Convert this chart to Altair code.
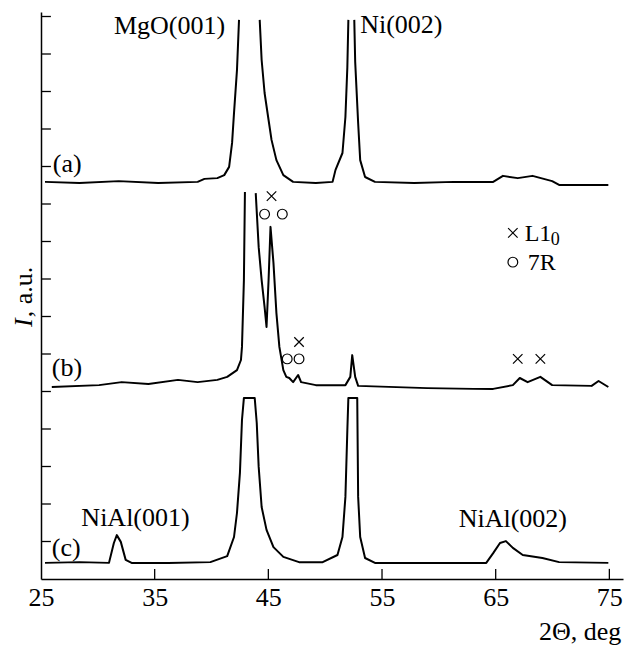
import altair as alt
import pandas as pd

FONT = "Liberation Serif"

# ---- pattern (a): 2theta (deg) and offset intensity (a.u.); None = break where peak leaves the frame
a_x = [25.35, 28.38, 31.84, 35.31, 38.78, 39.38, 40.51, 41.12, 41.55, 41.81, 41.98, 42.24, 42.42, None,
       44.24, 44.41, 44.67, 45.02, 45.28, 45.71, 46.32, 47.18, 49.18, 50.65, 50.91, 51.52, 51.78, 51.95, 52.04, None,
       52.56, 52.64, 52.90, 53.08, 53.51, 54.38, 57.84, 61.31, 64.78, 65.64, 66.94, 68.24, 69.97, 70.58, 74.91]
a_y = [10.59, 10.56, 10.61, 10.56, 10.59, 10.67, 10.69, 10.77, 10.99, 11.63, 12.43, 13.57, 14.91, None,
       14.91, 13.84, 12.96, 12.24, 11.71, 11.17, 10.77, 10.59, 10.56, 10.59, 10.91, 11.36, 12.32, 13.65, 14.91, None,
       14.91, 13.79, 12.16, 11.17, 10.72, 10.59, 10.56, 10.59, 10.59, 10.75, 10.69, 10.75, 10.61, 10.51, 10.51]

# ---- pattern (b)
b_x = [25.95, 30.11, 32.10, 34.45, 37.05, 38.78, 40.51, 41.38, 42.24, 42.59, 42.68, 42.85, 42.94, None,
       43.89, 44.15, 44.41, 44.67, 44.84, 45.02, 45.19, 45.45, 45.71, 45.97, 46.32, 46.58, 46.84, 47.18, 47.62,
       47.88, 49.18, 51.78, 52.21, 52.38, 52.64, 52.90, 58.97, 63.04, 64.78, 66.51, 67.12, 67.81, 68.93, 69.97,
       73.44, 74.05, 74.91]
b_y = [5.12, 5.17, 5.25, 5.20, 5.31, 5.25, 5.31, 5.39, 5.57, 5.84, 6.19, 7.97, 10.32, None,
       10.29, 8.85, 7.97, 7.25, 6.72, 7.97, 9.39, 8.43, 7.09, 6.19, 5.57, 5.39, 5.36, 5.25, 5.44,
       5.25, 5.17, 5.17, 5.39, 5.97, 5.39, 5.15, 5.09, 5.07, 5.07, 5.17, 5.36, 5.25, 5.39, 5.17,
       5.15, 5.28, 5.12]

# ---- pattern (c) (peaks saturated -> flat tops)
c_x = [25.35, 28.38, 30.98, 31.41, 31.67, 32.02, 32.45, 32.97, 36.18, 39.90, 41.38, 41.98, 42.24, 42.50, 42.68,
       42.85, 43.80, 43.98, 44.15, 44.41, 44.84, 45.45, 46.32, 47.70, 49.78, 51.08, 51.52, 51.78, 51.95, 52.04,
       52.82, 52.90, 53.08, 53.51, 54.38, 59.58, 64.17, 64.78, 65.38, 65.90, 66.51, 67.38, 69.11, 70.58, 74.91]
c_y = [0.43, 0.45, 0.43, 0.96, 1.17, 0.99, 0.51, 0.43, 0.43, 0.45, 0.61, 1.12, 1.76, 2.83, 4.24,
       4.83, 4.83, 4.16, 2.99, 1.92, 1.31, 0.85, 0.59, 0.45, 0.45, 0.64, 1.12, 2.19, 3.97, 4.83,
       4.83, 2.19, 1.12, 0.56, 0.43, 0.43, 0.43, 0.69, 0.96, 1.01, 0.83, 0.64, 0.56, 0.45, 0.43]

# ---- phase markers (x = L1_0, o = 7R), last entry of each is the key
cross_x = [45.28, 47.70, 66.94, 68.93, 66.51]
cross_y = [10.21, 6.32, 5.87, 5.87, 9.23]
circle_x = [44.67, 46.23, 46.66, 47.70, 66.51]
circle_y = [9.73, 9.73, 5.87, 5.87, 8.45]

# ---- axis ticks
x_ticks = [25, 35, 45, 55, 65, 75]
x_inner_ticks = [35, 45, 55, 65, 75]
y_ticks = list(range(1, 16))

# ---- text annotations
left_text = ["Ni(002)", "(a)", "(b)", "(c)", "NiAl(001)", "NiAl(002)", "L1", "7R"]
left_tx = [53.08, 26.04, 25.95, 25.95, 28.55, 61.74, 67.55, 67.81]
left_ty = [14.56, 10.85, 5.41, 0.61, 1.41, 1.39, 9.01, 8.24]
left_fs = [26, 26, 26, 26, 26, 26, 24, 24]
right_text = ["MgO(001)", "2Θ, deg"]
right_tx = [41.20, 76.05]
right_ty = [14.53, -1.63]

X_DOMAIN = [25, 76.2]
Y_DOMAIN = [0, 15.12]
TICK_DX = 0.87
TICK_DY = 0.27


def segments(name, xs, ys):
    rows, seg, i = [], 0, 0
    for x, y in zip(xs, ys):
        if x is None:
            seg += 1
            continue
        rows.append({"x": x, "y": y, "seg": f"{name}{seg}", "i": i})
        i += 1
    return rows


lines_df = pd.DataFrame(segments("a", a_x, a_y) + segments("b", b_x, b_y) + segments("c", c_x, c_y))

xs = alt.Scale(domain=X_DOMAIN, nice=False, zero=False)
ys = alt.Scale(domain=Y_DOMAIN, nice=False, zero=False)

X = alt.X("x:Q", scale=xs, axis=alt.Axis(values=x_ticks, ticks=False, tickSize=0, grid=False, title=None,
                                          labelFont=FONT, labelFontSize=26, labelColor="black",
                                          labelPadding=5, labelFlush=False, labelOverlap=False,
                                          domainColor="black", domainWidth=1.5))
Y = alt.Y("y:Q", scale=ys, axis=alt.Axis(labels=False, ticks=False, tickSize=0, grid=False, title=None,
                                          domainColor="black", domainWidth=1.5))

lines = alt.Chart(lines_df).mark_line(color="black", strokeWidth=2.0, strokeJoin="round").encode(
    x=X, y=Y, detail="seg:N", order="i:Q")

ytick_df = pd.DataFrame({"y": y_ticks, "x": [X_DOMAIN[0]] * len(y_ticks),
                         "x2": [X_DOMAIN[0] + TICK_DX] * len(y_ticks)})
yticks = alt.Chart(ytick_df).mark_rule(color="black", strokeWidth=1.3).encode(
    x=alt.X("x:Q", scale=xs), x2="x2:Q", y=alt.Y("y:Q", scale=ys))

xtick_df = pd.DataFrame({"x": x_inner_ticks, "y": [0] * len(x_inner_ticks),
                         "y2": [TICK_DY] * len(x_inner_ticks)})
xticks = alt.Chart(xtick_df).mark_rule(color="black", strokeWidth=1.3).encode(
    x=alt.X("x:Q", scale=xs), y=alt.Y("y:Q", scale=ys), y2="y2:Q")

cross_df = pd.DataFrame({"x": cross_x, "y": cross_y})
crosses = alt.Chart(cross_df).mark_point(shape="M-1,-1L1,1M-1,1L1,-1", filled=False, color="black",
                                         size=90, strokeWidth=1.2, opacity=1).encode(
    x=alt.X("x:Q", scale=xs), y=alt.Y("y:Q", scale=ys))

circle_df = pd.DataFrame({"x": circle_x, "y": circle_y})
circles = alt.Chart(circle_df).mark_point(shape="circle", filled=False, color="black",
                                          size=95, strokeWidth=1.2, opacity=1).encode(
    x=alt.X("x:Q", scale=xs), y=alt.Y("y:Q", scale=ys))

left_df = pd.DataFrame({"t": left_text, "x": left_tx, "y": left_ty, "fs": left_fs})
left_labels = alt.Chart(left_df).mark_text(font=FONT, align="left", baseline="alphabetic", color="black").encode(
    x=alt.X("x:Q", scale=xs), y=alt.Y("y:Q", scale=ys), text="t:N", size=alt.Size("fs:Q", scale=None))

right_df = pd.DataFrame({"t": right_text, "x": right_tx, "y": right_ty})
right_labels = alt.Chart(right_df).mark_text(font=FONT, fontSize=26, align="right", baseline="alphabetic",
                                             color="black").encode(
    x=alt.X("x:Q", scale=xs), y=alt.Y("y:Q", scale=ys), text="t:N")

sub_df = pd.DataFrame({"t": ["0"], "x": [69.85], "y": [8.91]})
sub_label = alt.Chart(sub_df).mark_text(font=FONT, fontSize=18, align="left", baseline="alphabetic",
                                        color="black").encode(
    x=alt.X("x:Q", scale=xs), y=alt.Y("y:Q", scale=ys), text="t:N")

ytitle_i_df = pd.DataFrame({"t": ["I"], "x": [24.22], "y": [6.72]})
ytitle_i = alt.Chart(ytitle_i_df).mark_text(font=FONT, fontSize=26, fontStyle="italic", angle=270,
                                            align="left", baseline="alphabetic", color="black").encode(
    x=alt.X("x:Q", scale=xs), y=alt.Y("y:Q", scale=ys), text="t:N")

ytitle_rest_df = pd.DataFrame({"t": [", a.u."], "x": [24.22], "y": [6.98]})
ytitle_rest = alt.Chart(ytitle_rest_df).mark_text(font=FONT, fontSize=26, angle=270,
                                                  align="left", baseline="alphabetic", color="black").encode(
    x=alt.X("x:Q", scale=xs), y=alt.Y("y:Q", scale=ys), text="t:N")

chart = alt.layer(lines, yticks, xticks, crosses, circles, left_labels, right_labels, sub_label,
                  ytitle_i, ytitle_rest).properties(
    width=582, height=567,
    autosize=alt.AutoSizeParams(type="none"),
    padding={"left": 33, "top": 4, "right": 1, "bottom": 68},
).configure_view(stroke="transparent")

chart.save("out.html", embed_options={"renderer": "svg", "actions": False})
